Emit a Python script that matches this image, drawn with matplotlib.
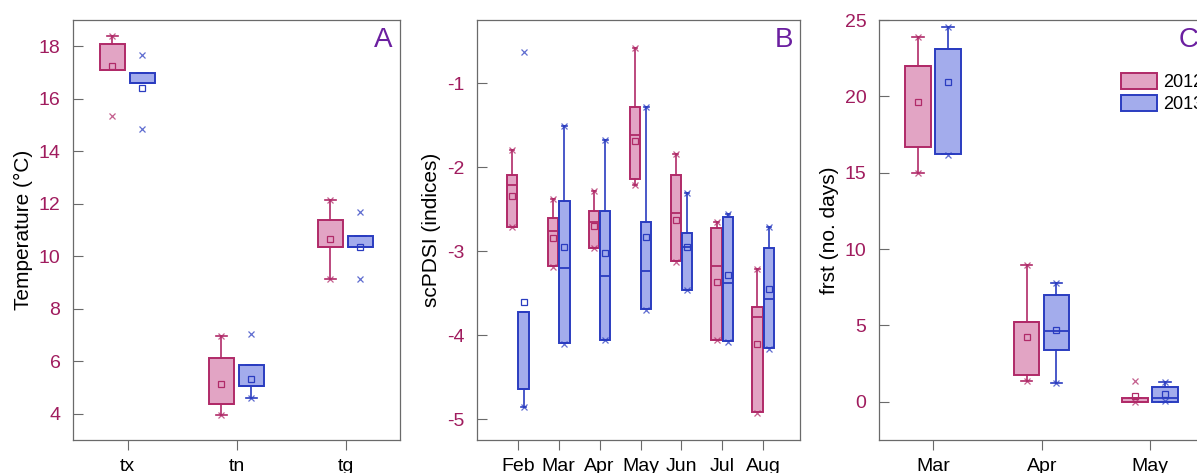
import matplotlib
matplotlib.use('Agg')
import matplotlib.pyplot as plt
from matplotlib.patches import Patch

plt.rcParams['font.family'] = ['Liberation Sans', 'DejaVu Sans']
plt.rcParams['axes.unicode_minus'] = False

PINK_FACE = '#e2a4c4'
PINK_EDGE = '#b02a68'
BLUE_FACE = '#a3acec'
BLUE_EDGE = '#2a3cc0'
TICK_COL = '#a01c5e'
LETTER_COL = '#6b1fa0'
SPINE_COL = '#6a6a6a'

# ---- data: (q1, median, q3, whisker low, whisker high, mean, [min, max]) ----
temp_cats = ['tx', 'tn', 'tg']
temp_2012 = [
    (17.11, 17.11, 18.08, 17.11, 18.38, 17.26, [15.36, 18.38]),
    (4.38, 4.38, 6.13, 3.97, 6.97, 5.15, [3.97, 6.97]),
    (10.35, 10.35, 11.39, 9.13, 12.15, 10.67, [9.13, 12.15]),
]
temp_2013 = [
    (16.60, 16.60, 16.98, 16.60, 16.98, 16.41, [14.86, 17.66]),
    (5.04, 5.04, 5.84, 4.59, 5.84, 5.33, [4.59, 7.03]),
    (10.37, 10.37, 10.78, 10.37, 10.78, 10.35, [9.13, 11.70]),
]

pdsi_cats = ['Feb', 'Mar', 'Apr', 'May', 'Jun', 'Jul', 'Aug']
pdsi_2012 = [
    (-2.72, -2.21, -2.09, -2.72, -1.80, -2.34, [-2.72, -1.80]),
    (-3.18, -2.76, -2.61, -3.18, -2.38, -2.84, [-3.19, -2.38]),
    (-2.97, -2.65, -2.52, -2.97, -2.28, -2.70, [-2.97, -2.28]),
    (-2.14, -1.62, -1.29, -2.21, -0.58, -1.69, [-2.21, -0.58]),
    (-3.12, -2.55, -2.10, -3.12, -1.84, -2.63, [-3.13, -1.84]),
    (-4.06, -3.18, -2.73, -4.06, -2.65, -3.37, [-4.06, -2.65]),
    (-4.92, -3.79, -3.67, -4.92, -3.22, -4.11, [-4.93, -3.22]),
]
pdsi_2013 = [
    (-4.64, -4.64, -3.73, -4.86, -3.73, -3.61, [-4.86, -0.63]),
    (-4.10, -3.20, -2.40, -4.10, -1.51, -2.95, [-4.11, -1.51]),
    (-4.06, -3.30, -2.52, -4.06, -1.68, -3.02, [-4.06, -1.68]),
    (-3.69, -3.24, -2.66, -3.69, -1.28, -2.83, [-3.70, -1.28]),
    (-3.46, -2.95, -2.78, -3.46, -2.31, -2.95, [-3.47, -2.31]),
    (-4.07, -3.38, -2.59, -4.07, -2.56, -3.28, [-4.08, -2.56]),
    (-4.16, -3.57, -2.96, -4.16, -2.71, -3.45, [-4.17, -2.71]),
]

frst_cats = ['Mar', 'Apr', 'May']
frst_2012 = [
    (16.67, 21.97, 21.97, 14.95, 23.87, 19.62, [14.95, 23.87]),
    (1.76, 5.21, 5.21, 1.39, 8.98, 4.23, [1.39, 8.98]),
    (0.0, 0.0, 0.22, 0.0, 0.22, 0.37, [0.0, 1.35]),
]
frst_2013 = [
    (16.22, 23.08, 23.08, 16.22, 24.56, 20.95, [16.17, 24.56]),
    (3.38, 4.66, 6.97, 1.20, 7.78, 4.69, [1.20, 7.78]),
    (0.0, 0.22, 0.98, 0.0, 1.29, 0.48, [0.04, 1.29]),
]


def to_stats(rows):
    out = []
    for q1, med, q3, lo, hi, mean, fl in rows:
        out.append(dict(q1=q1, med=med, q3=q3, whislo=lo, whishi=hi,
                        mean=mean, fliers=fl))
    return out


def draw_boxes(ax, rows, positions, face, edge, width):
    ax.bxp(to_stats(rows), positions=positions, widths=width, patch_artist=True,
           showmeans=True, manage_ticks=False, capwidths=width * 0.45,
           boxprops=dict(facecolor=face, edgecolor=edge, linewidth=1.4),
           medianprops=dict(color=edge, linewidth=1.3),
           whiskerprops=dict(color=edge, linewidth=1.2),
           capprops=dict(color=edge, linewidth=1.2),
           meanprops=dict(marker='s', markerfacecolor='none',
                          markeredgecolor=edge, markersize=5,
                          markeredgewidth=0.9),
           flierprops=dict(marker='x', markeredgecolor=edge, markersize=5,
                           markeredgewidth=0.9, alpha=0.75))


def style_axes(ax, cats, xlim, ylim, yticks, ylabel, letter):
    ax.set_xlim(*xlim)
    ax.set_ylim(*ylim)
    ax.set_xticks(range(1, len(cats) + 1))
    ax.set_xticklabels(cats, fontsize=14)
    ax.set_yticks(yticks)
    ax.tick_params(axis='y', direction='in', length=7, width=0.8,
                   color=SPINE_COL, labelcolor=TICK_COL, labelsize=14, pad=9)
    ax.tick_params(axis='x', direction='out', length=7, width=0.8,
                   color=SPINE_COL, pad=6)
    for s in ax.spines.values():
        s.set_color(SPINE_COL)
        s.set_linewidth(0.9)
    ax.set_ylabel(ylabel, fontsize=15, labelpad=4)
    ax.text(0.95, 0.952, letter, transform=ax.transAxes, ha='center',
            va='center', fontsize=20, color=LETTER_COL)


fig = plt.figure(figsize=(11.97, 4.73), dpi=100)
H = 473.0
W = 1197.0


def make_ax(x0, x1):
    return fig.add_axes([x0 / W, (H - 440) / H, (x1 - x0) / W, 420 / H])


# Panel A
ax1 = make_ax(73, 400)
n = len(temp_cats)
draw_boxes(ax1, temp_2012, [i + 1 - 0.14 for i in range(n)], PINK_FACE, PINK_EDGE, 0.23)
draw_boxes(ax1, temp_2013, [i + 1 + 0.135 for i in range(n)], BLUE_FACE, BLUE_EDGE, 0.23)
style_axes(ax1, temp_cats, (0.5, 3.5), (3.0, 19.0), [4, 6, 8, 10, 12, 14, 16, 18],
           'Temperature (°C)', 'A')

# Panel B
ax2 = make_ax(477, 800)
n = len(pdsi_cats)
draw_boxes(ax2, pdsi_2012, [i + 1 - 0.14 for i in range(n)], PINK_FACE, PINK_EDGE, 0.25)
draw_boxes(ax2, pdsi_2013, [i + 1 + 0.14 for i in range(n)], BLUE_FACE, BLUE_EDGE, 0.25)
style_axes(ax2, pdsi_cats, (0.0, 7.9), (-5.25, -0.25), [-5, -4, -3, -2, -1],
           'scPDSI (indices)', 'B')

# Panel C (runs past the right edge, as in the original)
ax3 = make_ax(879, 1204.5)
n = len(frst_cats)
draw_boxes(ax3, frst_2012, [i + 1 - 0.14 for i in range(n)], PINK_FACE, PINK_EDGE, 0.233)
draw_boxes(ax3, frst_2013, [i + 1 + 0.135 for i in range(n)], BLUE_FACE, BLUE_EDGE, 0.233)
style_axes(ax3, frst_cats, (0.5, 3.5), (-2.5, 25), [0, 5, 10, 15, 20, 25],
           'frst (no. days)', 'C')

handles = [Patch(facecolor=PINK_FACE, edgecolor=PINK_EDGE, linewidth=1.4, label='2012'),
           Patch(facecolor=BLUE_FACE, edgecolor=BLUE_EDGE, linewidth=1.4, label='2013')]
ax3.legend(handles=handles, loc='upper left', bbox_to_anchor=(0.742, 0.874),
           frameon=False, fontsize=13, handlelength=2.0, handleheight=1.0,
           labelspacing=0.2, handletextpad=0.35, borderaxespad=0, borderpad=0)

fig.savefig('out.png', dpi=100)
